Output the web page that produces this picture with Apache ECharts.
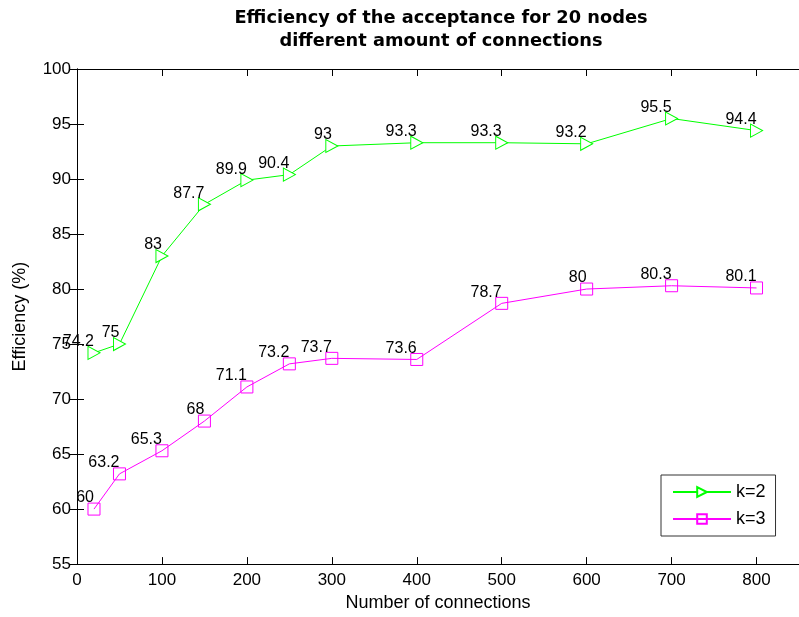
<!DOCTYPE html>
<html>
<head>
<meta charset="utf-8">
<script src="https://cdn.jsdelivr.net/npm/echarts@6/dist/echarts.min.js"></script>
<style>
html,body{margin:0;padding:0;background:#fff;}
#chart{width:799px;height:617px;}
</style>
</head>
<body>
<div id="chart"></div>
<script>
const connections = [20, 50, 100, 150, 200, 250, 300, 400, 500, 600, 700, 800];
const k2Values = [74.2, 75, 83, 87.7, 89.9, 90.4, 93, 93.3, 93.3, 93.2, 95.5, 94.4];
const k3Values = [60, 63.2, 65.3, 68, 71.1, 73.2, 73.7, 73.6, 78.7, 80, 80.3, 80.1];
const seriesNames = ['k=2', 'k=3'];
const titleLines = ['Efficiency of the acceptance for 20 nodes', 'different amount of connections'];
const xName = 'Number of connections';
const yName = 'Efficiency (%)';

const FONT = 'Liberation Sans, Arial, Helvetica, sans-serif';
const chart = echarts.init(document.getElementById('chart'), null, {renderer: 'canvas'});

function pairs(xs, ys) { return xs.map((x, i) => [x, ys[i]]); }

const pointLabel = {
  show: true,
  position: 'inside',
  align: 'right',
  verticalAlign: 'bottom',
  offset: [0, -3],
  color: '#000',
  fontFamily: FONT,
  fontSize: 16,
  formatter: p => String(p.value[1])
};

const axisCommon = {
  axisLine: {show: true, lineStyle: {color: '#000', width: 1}},
  axisTick: {show: true, inside: true, length: 7, lineStyle: {color: '#000'}},
  splitLine: {show: false},
};

chart.setOption({
  backgroundColor: '#fff',
  animation: false,
  graphic: [{
    type: 'text',
    x: 441,
    y: 7,
    style: {
      text: titleLines.join('\n'),
      align: 'center',
      verticalAlign: 'top',
      font: 'bold 17.8px "DejaVu Sans", sans-serif',
      lineHeight: 23,
      fill: '#000'
    }
  }],
  grid: {left: 77, top: 69, right: -6, bottom: 51, containLabel: false},
  legend: {
    left: 661,
    top: 475,
    orient: 'vertical',
    backgroundColor: '#fff',
    borderColor: '#333',
    borderWidth: 1,
    borderRadius: 0,
    padding: [8, 10, 8, 11],
    itemGap: 9,
    itemWidth: 58,
    itemHeight: 12,
    textStyle: {fontFamily: FONT, fontSize: 18, color: '#000'},
    data: seriesNames
  },
  xAxis: [{
    type: 'value', min: 0, max: 850, interval: 100, position: 'bottom',
    name: xName, nameLocation: 'middle', nameGap: 29,
    nameTextStyle: {fontFamily: FONT, fontSize: 18, color: '#000'},
    axisLabel: {color: '#000', fontFamily: FONT, fontSize: 17, margin: 8, showMaxLabel: false},
    ...axisCommon
  }, {
    type: 'value', min: 0, max: 850, interval: 100, position: 'top',
    axisLabel: {show: false},
    ...axisCommon
  }],
  yAxis: [{
    type: 'value', min: 55, max: 100, interval: 5, position: 'left',
    name: yName, nameLocation: 'middle', nameGap: 48,
    nameTextStyle: {fontFamily: FONT, fontSize: 18, color: '#000'},
    axisLabel: {color: '#000', fontFamily: FONT, fontSize: 17, margin: 6},
    ...axisCommon
  }, {
    type: 'value', min: 55, max: 100, interval: 5, position: 'right',
    axisLabel: {show: false},
    ...axisCommon
  }],
  series: [{
    name: seriesNames[0],
    type: 'line',
    data: pairs(connections, k2Values),
    symbol: 'triangle',
    symbolRotate: -90,
    symbolSize: [13, 12],
    showAllSymbol: true,
    lineStyle: {color: '#00ff00', width: 1},
    itemStyle: {color: '#fff', borderColor: '#00ff00', borderWidth: 1},
    label: pointLabel,
    z: 3
  }, {
    name: seriesNames[1],
    type: 'line',
    data: pairs(connections, k3Values),
    symbol: 'rect',
    symbolSize: 12,
    showAllSymbol: true,
    lineStyle: {color: '#ff00ff', width: 1},
    itemStyle: {color: 'rgba(255,255,255,0)', borderColor: '#ff00ff', borderWidth: 1},
    label: pointLabel,
    z: 3
  }]
});
</script>
</body>
</html>
